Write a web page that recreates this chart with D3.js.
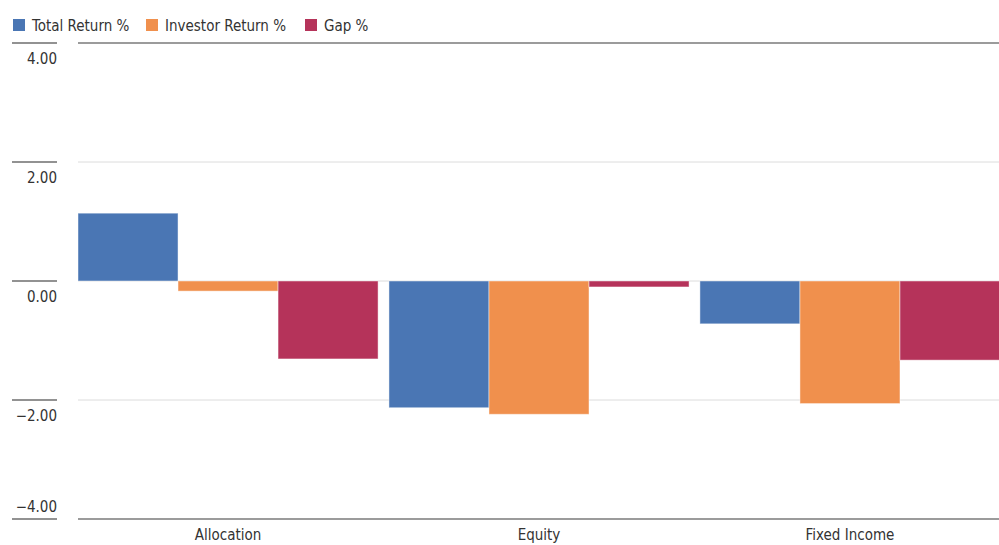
<!DOCTYPE html>
<html>
<head>
<meta charset="utf-8">
<script src="https://cdn.jsdelivr.net/npm/d3@7"></script>
<style>
  html, body { margin: 0; padding: 0; background: #fff; }
  svg text { font-family: "Liberation Sans Narrow", "DejaVu Sans Condensed", "Liberation Sans", sans-serif; fill: #333; }
</style>
</head>
<body>
<svg id="chart" width="999" height="545"></svg>
<script>
// Fund categories along the x axis
const categories = ["Allocation", "Equity", "Fixed Income"];
// Series names shown in the legend
const seriesNames = ["Total Return %", "Investor Return %", "Gap %"];
// Values per category, one array per series
const totalReturn    = [1.14, -2.13, -0.72];
const investorReturn = [-0.17, -2.24, -2.06];
const gap            = [-1.31, -0.10, -1.33];
// Y axis tick values
const yTicks = [4, 2, 0, -2, -4];

const seriesValues = [totalReturn, investorReturn, gap];
const colors = ["#4a76b4", "#f0904d", "#b5335a"];

const svg = d3.select("#chart");
const W = 999, H = 545;

const x0 = d3.scaleBand().domain(categories).range([78, 1000]).paddingInner(0.035).paddingOuter(0);
const x1 = d3.scaleBand().domain(seriesNames).range([0, x0.bandwidth()]).padding(0);
const y = d3.scaleLinear().domain([-4, 4]).range([519, 43]);

// Gridlines across the plot area
svg.append("g").selectAll("line")
  .data(yTicks)
  .join("line")
  .attr("x1", 78).attr("x2", W)
  .attr("y1", d => y(d)).attr("y2", d => y(d))
  .attr("stroke", d => (d === 4 || d === -4) ? "#7a7a7a" : "#dcdcdc")
  .attr("stroke-width", d => (d === 4 || d === -4) ? 1.5 : 1);

// Bars
const groups = svg.append("g").selectAll("g")
  .data(categories)
  .join("g")
  .attr("transform", c => `translate(${x0(c)},0)`);

groups.selectAll("rect")
  .data((c, i) => seriesNames.map((s, k) => ({ s, k, v: seriesValues[k][i] })))
  .join("rect")
  .attr("x", d => x1(d.s))
  .attr("width", x1.bandwidth())
  .attr("y", d => y(Math.max(0, d.v)))
  .attr("height", d => Math.abs(y(d.v) - y(0)))
  .attr("fill", d => colors[d.k])
  .attr("stroke", "rgba(255,255,255,0.45)")
  .attr("stroke-width", 1);

// Y axis: short tick rules on the left with labels
const yAxis = svg.append("g");
yAxis.selectAll("line")
  .data(yTicks)
  .join("line")
  .attr("x1", 12).attr("x2", 57)
  .attr("y1", d => y(d)).attr("y2", d => y(d))
  .attr("stroke", "#6e6e6e")
  .attr("stroke-width", 1.5);

yAxis.selectAll("text")
  .data(yTicks)
  .join("text")
  .attr("x", 57)
  .attr("y", d => d === -4 ? y(d) - 7 : y(d) + 21)
  .attr("text-anchor", "end")
  .attr("font-size", 15)
  .text(d => d3.format(".2f")(d).replace("-", "\u2212"));

// Category labels
svg.append("g").selectAll("text")
  .data(categories)
  .join("text")
  .attr("x", c => x0(c) + x0.bandwidth() / 2)
  .attr("y", 540)
  .attr("text-anchor", "middle")
  .attr("font-size", 15)
  .text(c => c);

// Legend
const legendX = [13, 146, 305];
const legend = svg.append("g").selectAll("g")
  .data(seriesNames)
  .join("g")
  .attr("transform", (d, i) => `translate(${legendX[i]},19)`);
legend.append("rect").attr("width", 12).attr("height", 12).attr("fill", (d, i) => colors[i]);
legend.append("text").attr("x", 19).attr("y", 11.5).attr("font-size", 15).text(d => d);
</script>
</body>
</html>
